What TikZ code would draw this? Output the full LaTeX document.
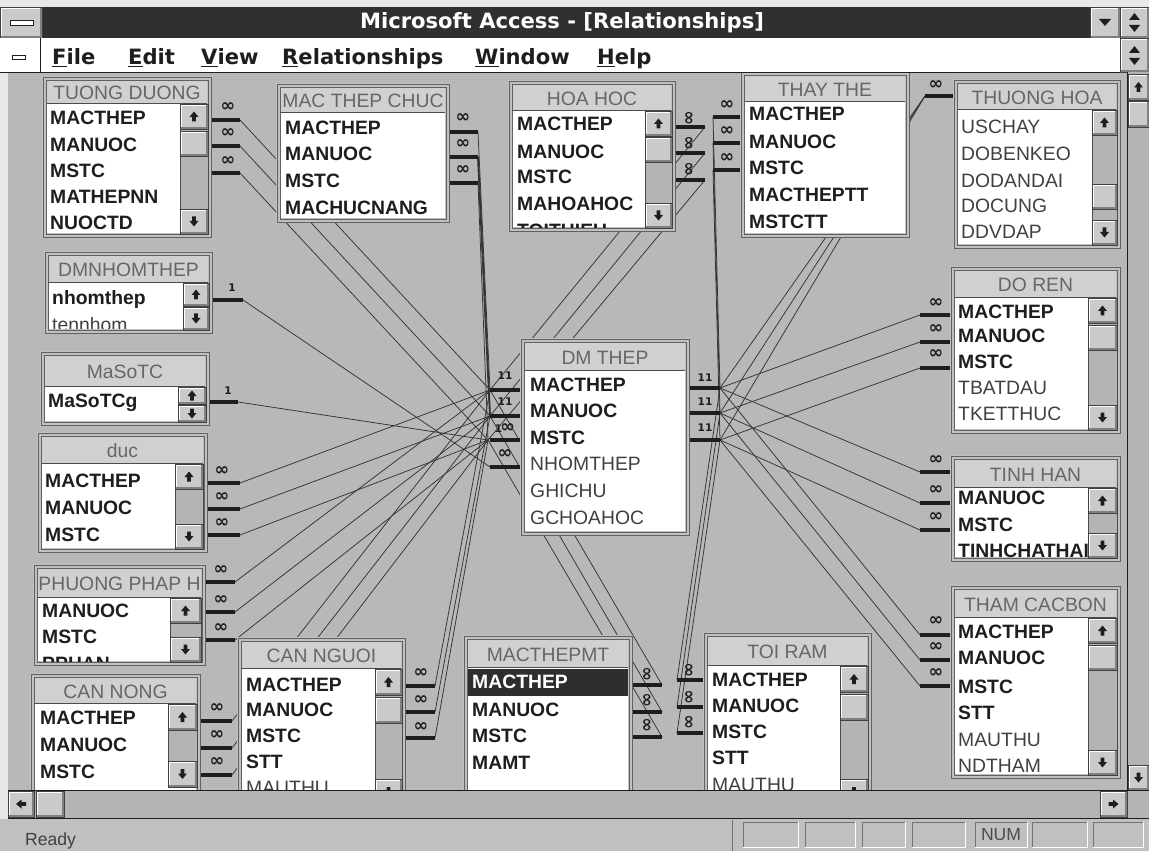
\documentclass[tikz,border=0pt]{standalone}
\usepackage{fontspec}
\setmainfont{Liberation Sans}
\newfontfamily\dvs{DejaVu Sans}
\definecolor{cvs}{RGB}{184,184,184}
\definecolor{tblbg}{RGB}{192,192,192}
\definecolor{titlebg}{RGB}{208,208,208}
\definecolor{btnbg}{RGB}{202,202,202}
\definecolor{sbtrack}{RGB}{180,180,180}
\definecolor{ink}{RGB}{30,30,30}
\definecolor{barbg}{RGB}{48,48,48}
\definecolor{page}{RGB}{232,232,232}
\tikzset{
  fldb/.style={anchor=west, inner sep=0pt, text=ink, font=\bfseries\fontsize{16.5}{17}\selectfont},
  fldr/.style={anchor=west, inner sep=0pt, text=ink!85, font=\fontsize{16.5}{17}\selectfont},
  ttl/.style={inner sep=0pt, text=black!60, font=\fontsize{16.5}{17}\selectfont},
  inf/.style={inner sep=0pt, text=ink, font=\dvs\bfseries\fontsize{15}{15}\selectfont},
  onelbl/.style={inner sep=0pt, text=ink, font=\dvs\bfseries\fontsize{9}{9}\selectfont},
  stub/.style={line width=3pt, draw=ink},
  rel/.style={line width=0.65pt, draw=ink!90},
  frame/.style={draw=black!62, line width=0.8pt},
  menu/.style={inner sep=0pt, anchor=base west, text=ink, font=\dvs\bfseries\fontsize{18}{18}\selectfont},
}
\newcommand\acctbl[7]{%
  \fill[tblbg] (#1,#2) rectangle (#3,#4);
  \draw[frame] (#1+1,#2+1) rectangle (#3-1,#4-1);
  \draw[frame] (#1+4,#2+4) rectangle (#3-4,#4-4);
  \fill[titlebg] (#1+5,#2+5) rectangle (#3-5,#5);
  \fill[white] (#1+5,#5) rectangle (#3-5,#4-5);
  \draw[black!70,line width=0.7pt] (#1+5,#5) -- (#3-5,#5);
  \begin{scope}
    \clip (#1+5,#2+5) rectangle (#3-5,#5);
    \node[ttl] (#7) at ({(#1+#3)/2},{(#2+5+#5)/2+1}) {#6};
  \end{scope}
}
\newcommand\btn[4]{%
  \fill[btnbg] (#1,#2) rectangle (#3,#4);
  \draw[white,line width=0.9pt] (#1+1,#4-1) -- (#1+1,#2+1) -- (#3-1,#2+1);
  \draw[black!50,line width=0.9pt] (#1+1,#4-1) -- (#3-1,#4-1) -- (#3-1,#2+1);
  \draw[black!75,line width=0.5pt] (#1,#2) rectangle (#3,#4);
}
\newcommand\arrU[2]{\fill[ink] (#1-4.5,#2+0.5) -- (#1,#2-5) -- (#1+4.5,#2+0.5) -- (#1+1.8,#2+0.5) -- (#1+1.8,#2+5) -- (#1-1.8,#2+5) -- (#1-1.8,#2+0.5) -- cycle;}
\newcommand\arrD[2]{\fill[ink] (#1-4.5,#2-0.5) -- (#1,#2+5) -- (#1+4.5,#2-0.5) -- (#1+1.8,#2-0.5) -- (#1+1.8,#2-5) -- (#1-1.8,#2-5) -- (#1-1.8,#2-0.5) -- cycle;}
\newcommand\arrL[2]{\fill[ink] (#1+0.5,#2-4.5) -- (#1-5,#2) -- (#1+0.5,#2+4.5) -- (#1+0.5,#2+1.8) -- (#1+5,#2+1.8) -- (#1+5,#2-1.8) -- (#1+0.5,#2-1.8) -- cycle;}
\newcommand\arrR[2]{\fill[ink] (#1-0.5,#2-4.5) -- (#1+5,#2) -- (#1-0.5,#2+4.5) -- (#1-0.5,#2+1.8) -- (#1-5,#2+1.8) -- (#1-5,#2-1.8) -- (#1-0.5,#2-1.8) -- cycle;}
\newcommand\accscroll[6]{%
  \fill[sbtrack] (#1,#2) rectangle (#3,#4);
  \draw[black!70,line width=0.5pt] (#1,#2) rectangle (#3,#4);
  \pgfmathsetmacro\sbcx{(#1+#3)/2}
  \pgfmathsetmacro\sbuy{#2+#6/2}
  \pgfmathsetmacro\sbdy{#4-#6/2}
  \btn{#1}{#2}{#3}{#2+#6}
  \arrU{\sbcx}{\sbuy}
  \ifnum#5>0 \btn{#1}{#5}{#3}{#5+#6}\fi
  \btn{#1}{#4-#6}{#3}{#4}
  \arrD{\sbcx}{\sbdy}
}
\begin{document}
\begin{tikzpicture}[x=0.03cm,y=-0.03cm]
\useasboundingbox (0,0) rectangle (1149,851);
\fill[page] (0,0) rectangle (1149,851);
\fill[cvs] (8,72) rectangle (1127,790);

% ---------- connector end points
\coordinate (dL1) at (490,390); \coordinate (dL2) at (490,416);
\coordinate (dL3) at (488,440); \coordinate (dL4) at (490,467);
\coordinate (dR1) at (720,388); \coordinate (dR2) at (720,413); \coordinate (dR3) at (720,440);
\coordinate (td1) at (240,120); \coordinate (td2) at (240,146); \coordinate (td3) at (240,173);
\coordinate (mc1) at (478,132); \coordinate (mc2) at (478,157); \coordinate (mc3) at (478,183);
\coordinate (hh1) at (705,127); \coordinate (hh2) at (705,153); \coordinate (hh3) at (705,180);
\coordinate (tt1) at (713,117); \coordinate (tt2) at (713,143); \coordinate (tt3) at (713,170);
\coordinate (th) at (925,96);
\coordinate (dn) at (243,300); \coordinate (ms) at (238,402);
\coordinate (du1) at (240,483); \coordinate (du2) at (240,509); \coordinate (du3) at (240,535);
\coordinate (pp1) at (235,582); \coordinate (pp2) at (235,612); \coordinate (pp3) at (235,640);
\coordinate (cn1) at (232,721); \coordinate (cn2) at (232,748); \coordinate (cn3) at (232,775);
\coordinate (cg1) at (435,686); \coordinate (cg2) at (435,712); \coordinate (cg3) at (435,738);
\coordinate (mt1) at (662,685); \coordinate (mt2) at (662,712); \coordinate (mt3) at (662,737);
\coordinate (tr1) at (677,680); \coordinate (tr2) at (677,707); \coordinate (tr3) at (677,733);
\coordinate (dr1) at (920,315); \coordinate (dr2) at (920,342); \coordinate (dr3) at (920,368);
\coordinate (ti1) at (920,472); \coordinate (ti2) at (920,503); \coordinate (ti3) at (920,530);
\coordinate (tc1) at (920,635); \coordinate (tc2) at (920,660); \coordinate (tc3) at (920,686);

% ---------- relationship lines
\foreach \a/\b in {td1/dL1,td2/dL2,td3/dL3, mc1/dL1,mc2/dL2,mc3/dL3, hh1/dL1,hh2/dL2,hh3/dL3,
  dn/dL4, ms/dL3, du1/dL1,du2/dL2,du3/dL3, pp1/dL1,pp2/dL2,pp3/dL3, cn1/dL1,cn2/dL2,cn3/dL3,
  cg1/dL1,cg2/dL2,cg3/dL3, mt1/dL1,mt2/dL2,mt3/dL3,
  tt1/dR1,tt2/dR2,tt3/dR3, th/dR1,th/dR2,th/dR3, tr1/dR1,tr2/dR2,tr3/dR3,
  dr1/dR1,dr2/dR2,dr3/dR3, ti1/dR1,ti2/dR2,ti3/dR3, tc1/dR1,tc2/dR2,tc3/dR3}
  \draw[rel] (\a) -- (\b);
\draw[rel, line width=1.6pt] (mc2) -- (dL2);

% ---------- stubs
\foreach \y in {120,146,173} \draw[stub] (212,\y) -- (240,\y);
\foreach \y in {132,157,183} \draw[stub] (450,\y) -- (478,\y);
\foreach \y in {127,153,180} \draw[stub] (675,\y) -- (705,\y);
\foreach \y in {117,143,170} \draw[stub] (713,\y) -- (740,\y);
\draw[stub] (th) -- (953,96);
\draw[stub] (212,300) -- (dn);
\draw[stub] (210,402) -- (ms);
\foreach \y in {483,509,535} \draw[stub] (207,\y) -- (240,\y);
\foreach \y in {582,612,640} \draw[stub] (205,\y) -- (235,\y);
\foreach \y in {721,748,775} \draw[stub] (201,\y) -- (232,\y);
\foreach \y in {686,712,738} \draw[stub] (406,\y) -- (435,\y);
\foreach \y in {685,712,737} \draw[stub] (633,\y) -- (662,\y);
\foreach \y in {680,707,733} \draw[stub] (677,\y) -- (703,\y);
\foreach \y in {315,342,368} \draw[stub] (920,\y) -- (950,\y);
\foreach \y in {472,503,530} \draw[stub] (920,\y) -- (950,\y);
\foreach \y in {635,660,686} \draw[stub] (920,\y) -- (950,\y);
\foreach \y in {390,416,440,467} \draw[stub] (490,\y) -- (520,\y);
\foreach \y in {388,413,440} \draw[stub] (690,\y) -- (720,\y);

% ---------- cardinality labels
\foreach \y [count=\i] in {107,133,161} \node[inf] (ltd\i) at (228,\y) {∞};
\foreach \y [count=\i] in {118,144,170} \node[inf] (lmc\i) at (463,\y) {∞};
\foreach \y [count=\i] in {118,143,169} \node[inf, rotate=90] (lhh\i) at (690,\y) {∞};
\foreach \y [count=\i] in {105,131,158} \node[inf] (ltt\i) at (727,\y) {∞};
\node[inf] (lth) at (936,85) {∞};
\node[onelbl] (ldn) at (232,288) {1};
\node[onelbl] (lms) at (228,391) {1};
\foreach \y [count=\i] in {471,497,523} \node[inf] (ldu\i) at (222,\y) {∞};
\foreach \y [count=\i] in {570,600,628} \node[inf] (lpp\i) at (221,\y) {∞};
\foreach \y [count=\i] in {708,735,762} \node[inf] (lcn\i) at (217,\y) {∞};
\foreach \y [count=\i] in {673,700,727} \node[inf] (lcg\i) at (421,\y) {∞};
\foreach \y [count=\i] in {674,700,725} \node[inf, rotate=90] (lmt\i) at (648,\y) {∞};
\foreach \y [count=\i] in {670,697,722} \node[inf, rotate=90] (ltr\i) at (690,\y) {∞};
\foreach \y [count=\i] in {303,329,354} \node[inf] (ldr\i) at (936,\y) {∞};
\foreach \y [count=\i] in {460,490,517} \node[inf] (lti\i) at (936,\y) {∞};
\foreach \y [count=\i] in {621,647,673} \node[inf] (ltc\i) at (936,\y) {∞};
\node[onelbl] (ldl1) at (505,376) {11};
\node[onelbl] (ldl2) at (505,402) {11};
\node[inf] (ldl3) at (505,428) {{\fontsize{9}{9}\selectfont 1}\kern-1.5pt∞};
\node[inf] (ldl4) at (505,454) {∞};
\node[onelbl] (ldr1) at (705,378) {11};
\node[onelbl] (ldr2) at (705,402) {11};
\node[onelbl] (ldr3) at (705,428) {11};

% ---------- TUONG DUONG
\acctbl{42}{76}{212}{238}{103}{TUONG DUONG}{tTD}
\accscroll{180}{104}{208}{234}{131}{25}
\begin{scope}\clip (47,104) rectangle (180,233);
\node[fldb] (f11) at (50,118) {MACTHEP};
\node[fldb] (f12) at (50,145) {MANUOC};
\node[fldb] (f13) at (50,171) {MSTC};
\node[fldb] (f14) at (50,197) {MATHEPNN};
\node[fldb] (f15) at (50,223) {NUOCTD};
\end{scope}

% ---------- MAC THEP CHUC
\acctbl{276}{83}{450}{223}{112}{MAC THEP CHUC}{tMC}
\begin{scope}\clip (281,112) rectangle (445,218);
\node[fldb] (f21) at (285,128) {MACTHEP};
\node[fldb] (f22) at (285,154) {MANUOC};
\node[fldb] (f23) at (285,181) {MSTC};
\node[fldb] (f24) at (285,208) {MACHUCNANG};
\end{scope}

% ---------- HOA HOC
\acctbl{508}{80}{676}{232}{110}{HOA HOC}{tHH}
\accscroll{645}{111}{672}{228}{137}{25}
\begin{scope}\clip (513,111) rectangle (645,228);
\node[fldb] (f31) at (517,124) {MACTHEP};
\node[fldb] (f32) at (517,152) {MANUOC};
\node[fldb] (f33) at (517,177) {MSTC};
\node[fldb] (f34) at (517,204) {MAHOAHOC};
\node[fldb] (f35) at (517,231) {TOITHIEU};
\end{scope}

% ---------- THAY THE
\acctbl{740}{71}{910}{238}{101}{THAY THE}{tTT}
\begin{scope}\clip (745,101) rectangle (905,233);
\node[fldb] (f41) at (749,114) {MACTHEP};
\node[fldb] (f42) at (749,142) {MANUOC};
\node[fldb] (f43) at (749,168) {MSTC};
\node[fldb] (f44) at (749,195) {MACTHEPTT};
\node[fldb] (f45) at (749,222) {MSTCTT};
\end{scope}

% ---------- THUONG HOA
\acctbl{953}{79}{1121}{249}{109}{THUONG HOA}{tTH}
\accscroll{1092}{110}{1117}{245}{184}{25}
\begin{scope}\clip (958,110) rectangle (1092,245);
\node[fldr] (f51) at (961,127) {USCHAY};
\node[fldr] (f52) at (961,154) {DOBENKEO};
\node[fldr] (f53) at (961,181) {DODANDAI};
\node[fldr] (f54) at (961,206) {DOCUNG};
\node[fldr] (f55) at (961,232) {DDVDAP};
\end{scope}

% ---------- DMNHOMTHEP
\acctbl{44}{251}{213}{334}{282}{DMNHOMTHEP}{tDN}
\accscroll{183}{283}{209}{330}{0}{23}
\begin{scope}\clip (49,283) rectangle (183,329);
\node[fldb] (f61) at (52,300) {nhomthep};
\node[fldr] (f62) at (52,325) {tennhom};
\end{scope}

% ---------- MaSoTC
\acctbl{40}{351}{210}{426}{386}{MaSoTC}{tMS}
\accscroll{178}{387}{206}{422}{0}{17}
\begin{scope}\clip (45,387) rectangle (178,421);
\node[fldb] (f71) at (48,403) {MaSoTCg};
\end{scope}

% ---------- duc
\acctbl{37}{432}{208}{553}{463}{duc}{tDU}
\accscroll{175}{464}{203}{549}{0}{25}
\begin{scope}\clip (42,464) rectangle (175,548);
\node[fldb] (f81) at (45,481) {MACTHEP};
\node[fldb] (f82) at (45,508) {MANUOC};
\node[fldb] (f83) at (45,535) {MSTC};
\end{scope}

% ---------- PHUONG PHAP H
\acctbl{33}{564}{206}{666}{597}{PHUONG PHAP H}{tPP}
\accscroll{170}{598}{201}{662}{0}{25}
\begin{scope}\clip (38,598) rectangle (170,661);
\node[fldb] (f91) at (42,611) {MANUOC};
\node[fldb] (f92) at (42,637) {MSTC};
\node[fldb] (f93) at (42,664) {PPHAN};
\end{scope}

% ---------- CAN NONG
\acctbl{30}{673}{201}{810}{703}{CAN NONG}{tCN}
\accscroll{168}{704}{197}{787}{0}{26}
\begin{scope}\clip (35,704) rectangle (168,805);
\node[fldb] (fa1) at (40,718) {MACTHEP};
\node[fldb] (fa2) at (40,745) {MANUOC};
\node[fldb] (fa3) at (40,772) {MSTC};
\end{scope}

% ---------- CAN NGUOI
\acctbl{237}{637}{406}{810}{668}{CAN NGUOI}{tCG}
\accscroll{375}{669}{402}{805}{697}{26}
\begin{scope}\clip (242,669) rectangle (375,805);
\node[fldb] (fb1) at (246,685) {MACTHEP};
\node[fldb] (fb2) at (246,710) {MANUOC};
\node[fldb] (fb3) at (246,736) {MSTC};
\node[fldb] (fb4) at (246,762) {STT};
\node[fldr] (fb5) at (246,788) {MAUTHU};
\end{scope}

% ---------- MACTHEPMT
\acctbl{463}{635}{633}{810}{667}{MACTHEPMT}{tMT}
\fill[black!82] (468,669) rectangle (628,696);
\node[fldb, text=white] (fc1) at (472,682) {MACTHEP};
\node[fldb] (fc2) at (472,710) {MANUOC};
\node[fldb] (fc3) at (472,736) {MSTC};
\node[fldb] (fc4) at (472,763) {MAMT};

% ---------- TOI RAM
\acctbl{703}{632}{872}{810}{665}{TOI RAM}{tTR}
\accscroll{840}{666}{868}{805}{694}{26}
\begin{scope}\clip (708,666) rectangle (840,805);
\node[fldb] (fd1) at (712,680) {MACTHEP};
\node[fldb] (fd2) at (712,706) {MANUOC};
\node[fldb] (fd3) at (712,732) {MSTC};
\node[fldb] (fd4) at (712,758) {STT};
\node[fldr] (fd5) at (712,785) {MAUTHU};
\end{scope}

% ---------- DM THEP
\acctbl{520}{338}{690}{536}{370}{DM THEP}{tDM}
\node[fldb] (fe1) at (530,385) {MACTHEP};
\node[fldb] (fe2) at (530,411) {MANUOC};
\node[fldb] (fe3) at (530,438) {MSTC};
\node[fldr] (fe4) at (530,464) {NHOMTHEP};
\node[fldr] (fe5) at (530,491) {GHICHU};
\node[fldr] (fe6) at (530,518) {GCHOAHOC};

% ---------- DO REN
\acctbl{950}{266}{1121}{434}{297}{DO REN}{tDR}
\accscroll{1088}{298}{1117}{430}{325}{25}
\begin{scope}\clip (955,298) rectangle (1088,429);
\node[fldb] (ff1) at (958,312) {MACTHEP};
\node[fldb] (ff2) at (958,336) {MANUOC};
\node[fldb] (ff3) at (958,362) {MSTC};
\node[fldr] (ff4) at (958,388) {TBATDAU};
\node[fldr] (ff5) at (958,414) {TKETTHUC};
\end{scope}

% ---------- TINH HAN
\acctbl{950}{455}{1121}{562}{487}{TINH HAN}{tTI}
\accscroll{1088}{488}{1117}{558}{0}{25}
\begin{scope}\clip (955,488) rectangle (1088,557);
\node[fldb] (fg1) at (958,498) {MANUOC};
\node[fldb] (fg2) at (958,525) {MSTC};
\node[fldb] (fg3) at (958,551) {TINHCHATHAI};
\end{scope}

% ---------- THAM CACBON
\acctbl{950}{585}{1121}{779}{617}{THAM CACBON}{tTC}
\accscroll{1088}{618}{1117}{775}{645}{25}
\begin{scope}\clip (955,618) rectangle (1088,774);
\node[fldb] (fh1) at (958,632) {MACTHEP};
\node[fldb] (fh2) at (958,658) {MANUOC};
\node[fldb] (fh3) at (958,687) {MSTC};
\node[fldb] (fh4) at (958,713) {STT};
\node[fldr] (fh5) at (958,740) {MAUTHU};
\node[fldr] (fh6) at (958,766) {NDTHAM};
\end{scope}

% ---------- window chrome: title bar
\fill[barbg] (42,7) rectangle (1090,38);
\btn{0}{7}{42}{38}
\fill[white] (10,20) rectangle (33,25); \draw[ink,line width=0.6pt] (10,20) rectangle (33,25);
\node[inner sep=0pt, text=white, font=\dvs\bfseries\fontsize{18}{18}\selectfont] (wtitle) at (562,23) {Microsoft Access - [Relationships]};
\btn{1090}{7}{1120}{38}
\fill[ink] (1099,19) -- (1111,19) -- (1105,26) -- cycle;
\btn{1120}{7}{1149}{38}
\fill[ink] (1129,20) -- (1140,20) -- (1134.5,13) -- cycle;
\fill[ink] (1129,25) -- (1140,25) -- (1134.5,32) -- cycle;
% menu bar
\fill[white] (0,38) rectangle (1120,72);
\draw[ink,line width=0.8pt] (0,72) -- (1149,72);
\draw[ink,line width=0.6pt] (40,38) -- (40,72);
\fill[white] (12,55) rectangle (25,59); \draw[ink,line width=0.6pt] (12,55) rectangle (25,59);
\node[menu] (mFile) at (52,65) {\underline{F}ile};
\node[menu] (mEdit) at (128,65) {\underline{E}dit};
\node[menu] (mView) at (201,65) {\underline{V}iew};
\node[menu] (mRel) at (282,65) {\underline{R}elationships};
\node[menu] (mWin) at (475,65) {\underline{W}indow};
\node[menu] (mHelp) at (597,65) {\underline{H}elp};
\btn{1120}{38}{1149}{72}
\fill[ink] (1129,53) -- (1140,53) -- (1134.5,46) -- cycle;
\fill[ink] (1129,58) -- (1140,58) -- (1134.5,65) -- cycle;
% vertical scrollbar
\fill[sbtrack] (1127,72) rectangle (1149,790);
\draw[ink,line width=0.6pt] (1127,72) -- (1127,790);
\btn{1128}{74}{1149}{100}
\arrU{1138.5}{87}
\btn{1128}{101}{1149}{127}
\btn{1128}{765}{1149}{790}
\arrD{1138.5}{777.5}
% horizontal scrollbar
\fill[sbtrack] (8,790) rectangle (1149,818);
\draw[ink,line width=0.6pt] (8,790) -- (1149,790);
\draw[ink,line width=0.6pt] (8,818) -- (1149,818);
\btn{8}{791}{34}{817}
\arrL{21}{804}
\btn{36}{791}{64}{817}
\btn{1100}{791}{1127}{817}
\arrR{1113.5}{804}
% status bar
\fill[tblbg] (0,819) rectangle (1149,851);
\node[anchor=base west, inner sep=0pt, text=black!75, font=\fontsize{15}{15}\selectfont] (sReady) at (25,845) {Ready};
\draw[black!55,line width=0.6pt] (732,820) -- (732,851);
\foreach \a/\b in {743/798,805/855,862/905,912/965,975/1027,1032/1087,1093/1143} {
  \draw[black!55,line width=0.7pt] (\a,847) -- (\a,822) -- (\b,822);
  \draw[white,line width=0.7pt] (\a,847) -- (\b,847) -- (\b,822);
}
\node[inner sep=0pt, text=black!70, font=\fontsize{15}{15}\selectfont] (sNum) at (1001,835) {NUM};
\end{tikzpicture}
\end{document}
